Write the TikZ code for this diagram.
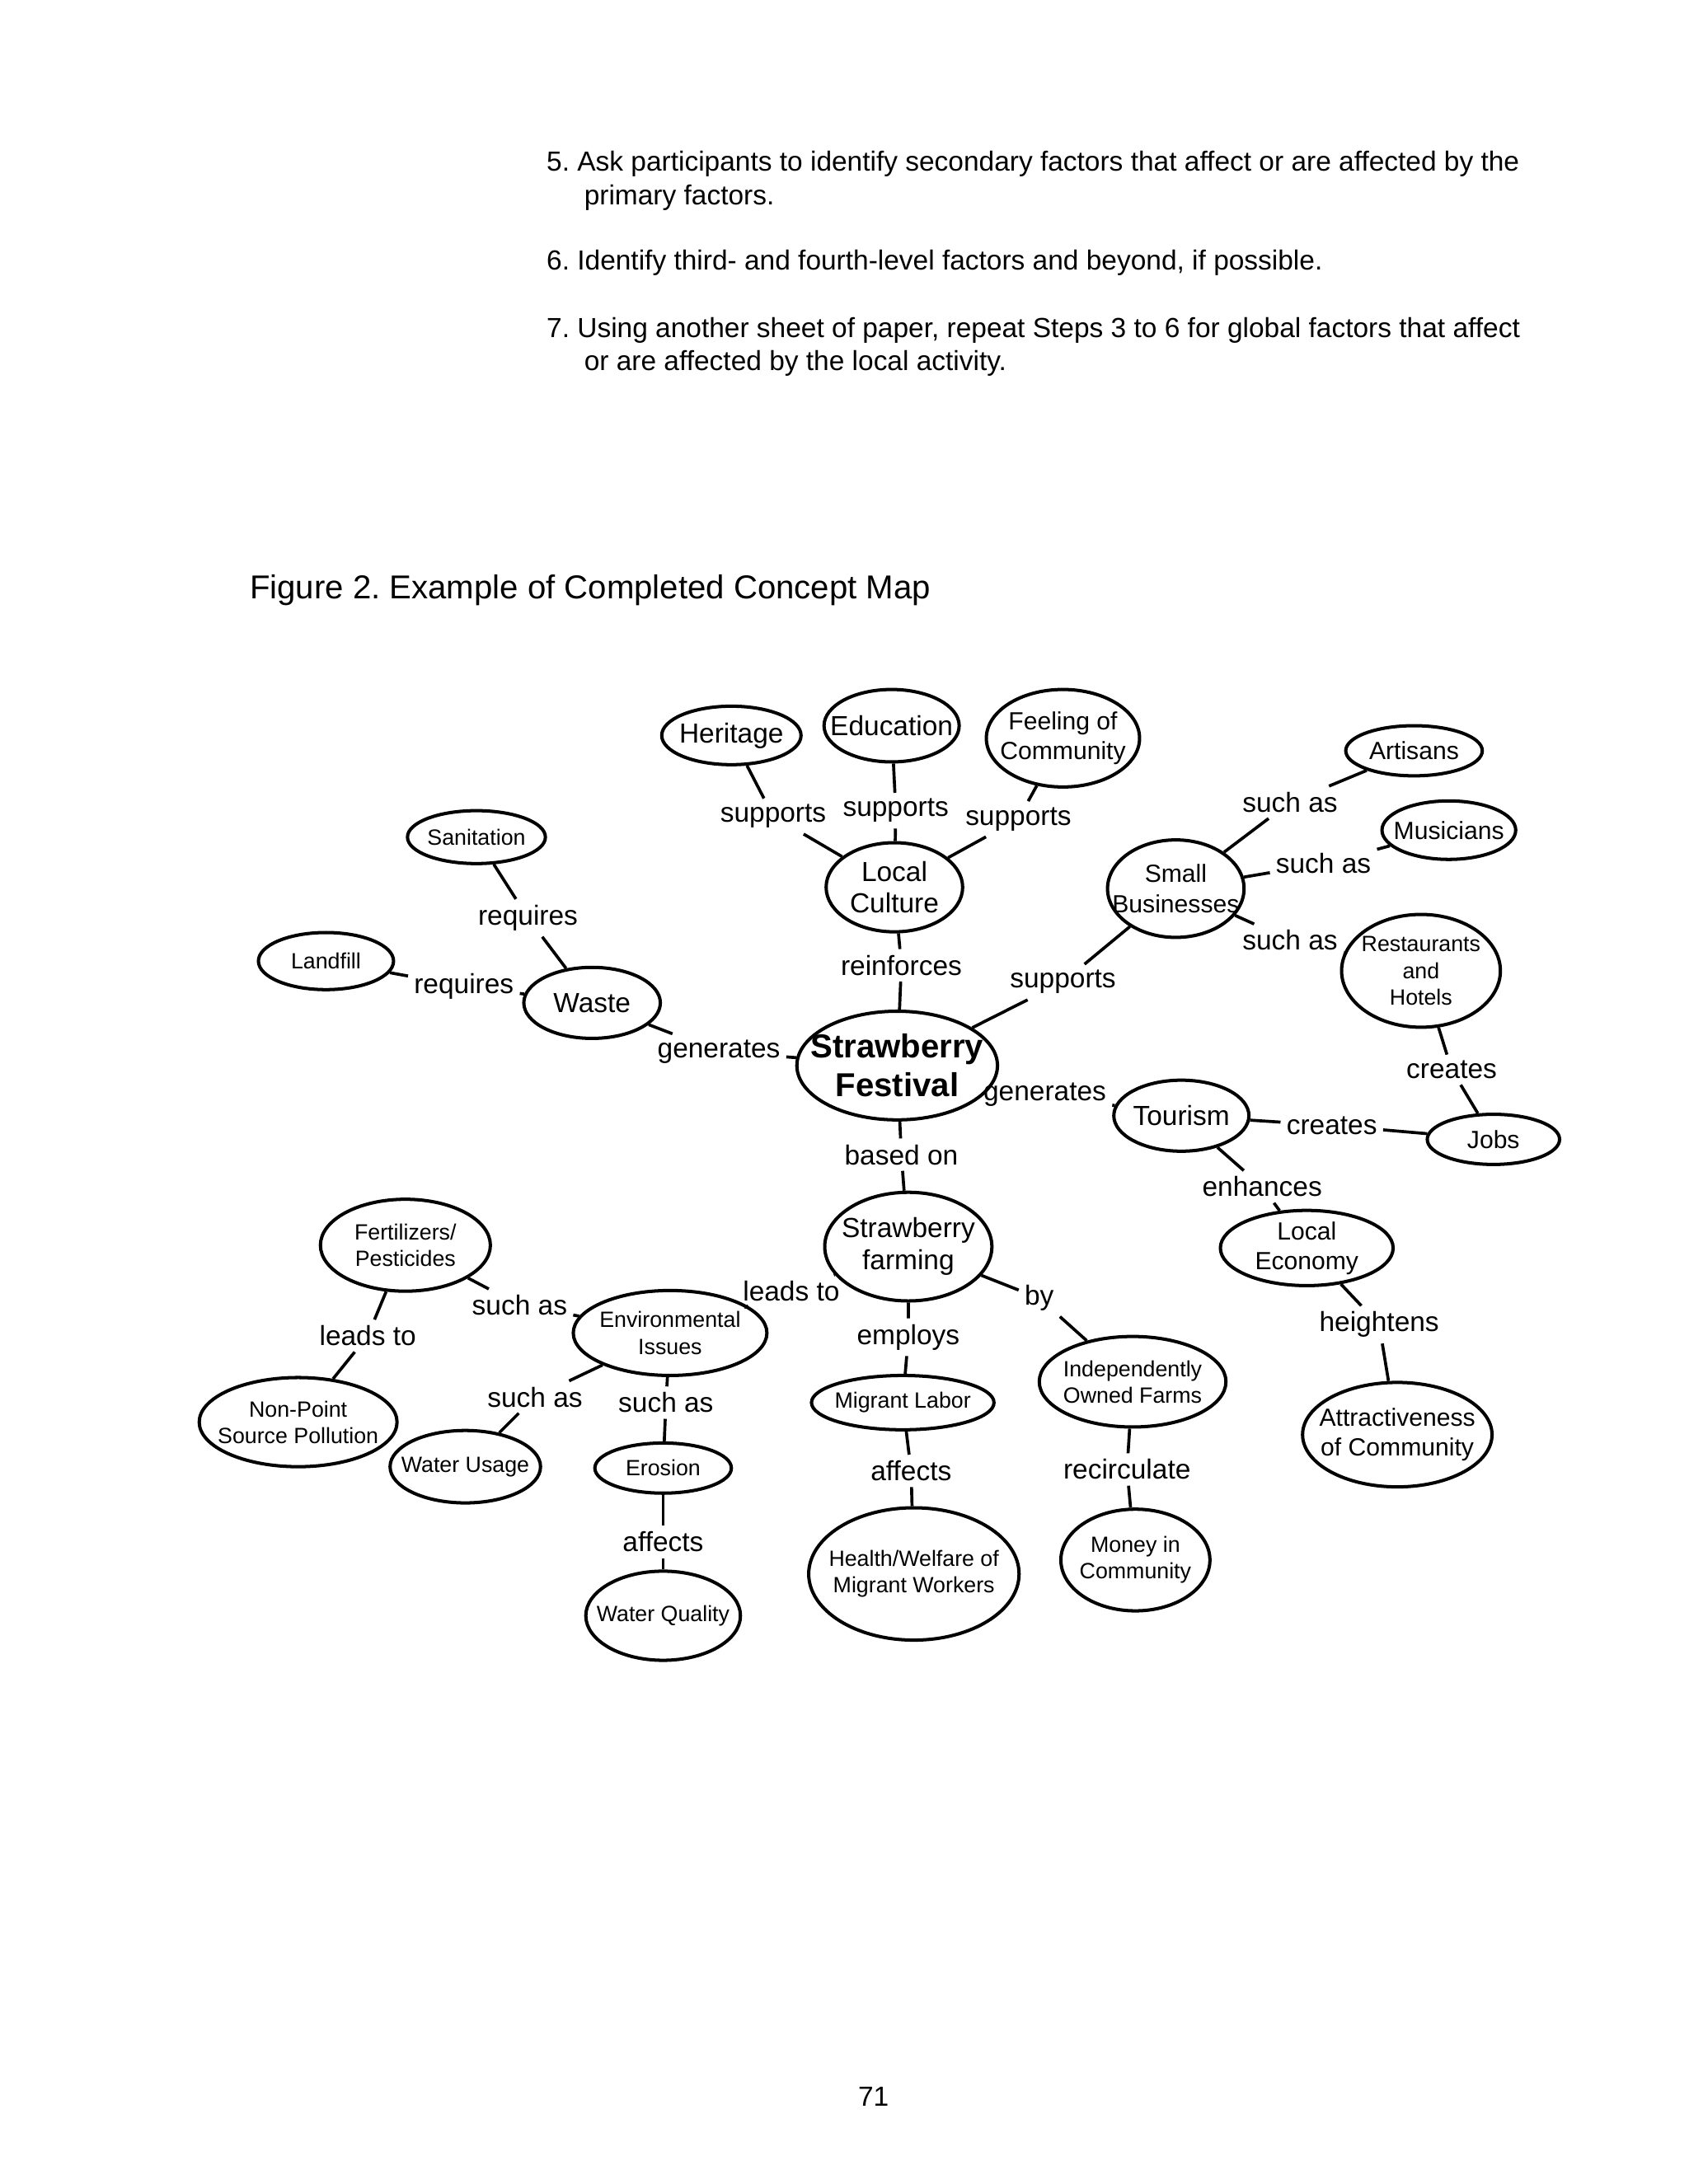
\documentclass[tikz,border=0pt]{standalone}
\usepackage{fontspec}
\setmainfont{Liberation Sans}
\usetikzlibrary{shapes.geometric}
\frenchspacing
\tikzset{
  cshape/.style={ellipse, draw=black, line width=1.2pt, inner sep=0pt},
  ctext/.style={align=center, inner sep=0pt, text=black},
  fa/.style={font=\fontsize{8}{9.6}\selectfont},
  fb/.style={font=\fontsize{9}{10.8}\selectfont},
  fc/.style={font=\fontsize{10}{11.6}\selectfont},
  fbold/.style={font=\fontsize{12}{14}\selectfont\bfseries},
  lab/.style={font=\fontsize{10}{12}\selectfont, inner sep=2pt, text=black},
  conn/.style={draw=black, line width=1.1pt},
  body/.style={font=\fontsize{10}{12}\selectfont, inner sep=0pt, anchor=base west, text=black}
}
\newcommand\concept[7]{%
  \node[cshape, minimum width=#4*0.505pt, minimum height=#5*0.505pt] (#1) at (#2,#3) {};
  \node[ctext, #6] (#1t) at (#1.center) {#7};}
\newcommand\lbl[4]{\node[lab] (#1) at (#2,#3+2) {#4};}
\begin{document}
\begin{tikzpicture}[x=0.505pt, y=-0.505pt]
\useasboundingbox (0,0) rectangle (1212,1568);
\fill[white] (0,0) rectangle (1212,1568);

% body text
\node[body] (p5a) at (392,123) {5. Ask participants to identify secondary factors that affect or are affected by the};
\node[body] (p5b) at (419,147) {primary factors.};
\node[body] (p6) at (392,194) {6. Identify third- and fourth-level factors and beyond, if possible.};
\node[body] (p7a) at (392,242) {7. Using another sheet of paper, repeat Steps 3 to 6 for global factors that affect};
\node[body] (p7b) at (419,266) {or are affected by the local activity.};
\node[body, font=\fontsize{12}{14}\selectfont] (fig) at (179,430) {Figure 2. Example of Completed Concept Map};
\node[body, anchor=base] (pg) at (627,1512) {71};

% concepts
\concept{heritage}{525}{528}{100}{42}{fc}{Heritage}
\concept{edu}{640}{521}{97}{52}{fc}{Education}
\concept{feel}{763}{530}{110}{70}{fb}{Feeling of\\Community}
\concept{lc}{642}{637}{98}{64}{fc}{Local\\Culture}
\concept{sanit}{342}{601}{99}{38}{fa}{Sanitation}
\concept{landfill}{234}{690}{97}{41}{fa}{Landfill}
\concept{waste}{425}{720}{98}{51}{fc}{Waste}
\concept{fest}{644}{765}{144}{78}{fbold}{Strawberry\\Festival}
\concept{sb}{844}{638}{98}{70}{fb}{Small\\Businesses}
\concept{art}{1015}{539}{98}{36}{fb}{Artisans}
\concept{mus}{1040}{596}{96}{42}{fb}{Musicians}
\concept{rest}{1020}{697}{114}{81}{fa}{Restaurants\\and\\Hotels}
\concept{tour}{848}{801}{97}{51}{fc}{Tourism}
\concept{jobs}{1072}{818}{95}{36}{fb}{Jobs}
\concept{le}{938}{896}{124}{54}{fb}{Local\\Economy}
\concept{attr}{1003}{1030}{136}{75}{fb}{Attractiveness\\of Community}
\concept{farm}{652}{895}{120}{78}{fc}{Strawberry\\farming}
\concept{env}{481}{957}{139}{61}{fa}{Environmental\\Issues}
\concept{fert}{291}{894}{122}{66}{fa}{Fertilizers/\\Pesticides}
\concept{nps}{214}{1021}{142}{64}{fa}{Non-Point\\Source Pollution}
\concept{wu}{334}{1053}{108}{52}{fa}{Water Usage}
\concept{ero}{476}{1054}{98}{36}{fa}{Erosion}
\concept{wq}{476}{1160}{111}{64}{fa}{Water Quality}
\concept{ml}{648}{1007}{131}{39}{fa}{Migrant Labor}
\concept{hw}{656}{1130}{151}{95}{fa}{Health/Welfare of\\Migrant Workers}
\concept{iof}{813}{992}{134}{65}{fa}{Independently\\Owned Farms}
\concept{money}{815}{1120}{107}{73}{fa}{Money in\\Community}

% linking words
\lbl{l1}{555}{584}{supports}
\lbl{l2}{643}{580}{supports}
\lbl{l3}{731}{586}{supports}
\lbl{l4}{647}{691}{reinforces}
\lbl{l5}{379}{657}{requires}
\lbl{l6}{333}{706}{requires}
\lbl{l7}{516}{753}{generates}
\lbl{l8}{763}{703}{supports}
\lbl{l9}{926}{574}{such as}
\lbl{l10}{950}{618}{such as}
\lbl{l11}{926}{673}{such as}
\lbl{l12}{1042}{766}{creates}
\lbl{l13}{750}{784}{generates}
\lbl{l14}{956}{806}{creates}
\lbl{l15}{906}{850}{enhances}
\lbl{l16}{990}{949}{heightens}
\lbl{l17}{647}{827}{based on}
\lbl{l18}{568}{925}{leads to}
\lbl{l19}{746}{930}{by}
\lbl{l20}{652}{958}{employs}
\lbl{l21}{654}{1054}{affects}
\lbl{l22}{809}{1053}{recirculate}
\lbl{l23}{373}{935}{such as}
\lbl{l24}{264}{957}{leads to}
\lbl{l25}{384}{1001}{such as}
\lbl{l26}{478}{1005}{such as}
\lbl{l27}{476}{1105}{affects}

% connectors
\draw[conn] (heritage) -- (l1) -- (lc);
\draw[conn] (edu) -- (l2) -- (lc);
\draw[conn] (feel) -- (l3) -- (lc);
\draw[conn] (lc) -- (l4) -- (fest);
\draw[conn] (sanit) -- (l5) -- (waste);
\draw[conn] (landfill) -- (l6) -- (waste);
\draw[conn] (waste) -- (l7) -- (fest);
\draw[conn] (fest) -- (l8) -- (sb);
\draw[conn] (sb) -- (l9) -- (art);
\draw[conn] (sb) -- (l10) -- (mus);
\draw[conn] (sb) -- (l11) -- (rest);
\draw[conn] (rest) -- (l12) -- (jobs);
\draw[conn] (l13) -- (tour);
\draw[conn] (tour) -- (l14) -- (jobs);
\draw[conn] (tour) -- (l15) -- (le);
\draw[conn] (le) -- (l16) -- (attr);
\draw[conn] (fest) -- (l17) -- (farm);
\draw[conn] (farm) -- (l18) -- (env);
\draw[conn] (farm) -- (l19) -- (iof);
\draw[conn] (farm) -- (l20) -- (ml);
\draw[conn] (ml) -- (l21) -- (hw);
\draw[conn] (iof) -- (l22) -- (money);
\draw[conn] (env) -- (l23) -- (fert);
\draw[conn] (fert) -- (l24) -- (nps);
\draw[conn] (env) -- (l25) -- (wu);
\draw[conn] (env) -- (l26) -- (ero);
\draw[conn] (ero) -- (l27) -- (wq);
\end{tikzpicture}
\end{document}
